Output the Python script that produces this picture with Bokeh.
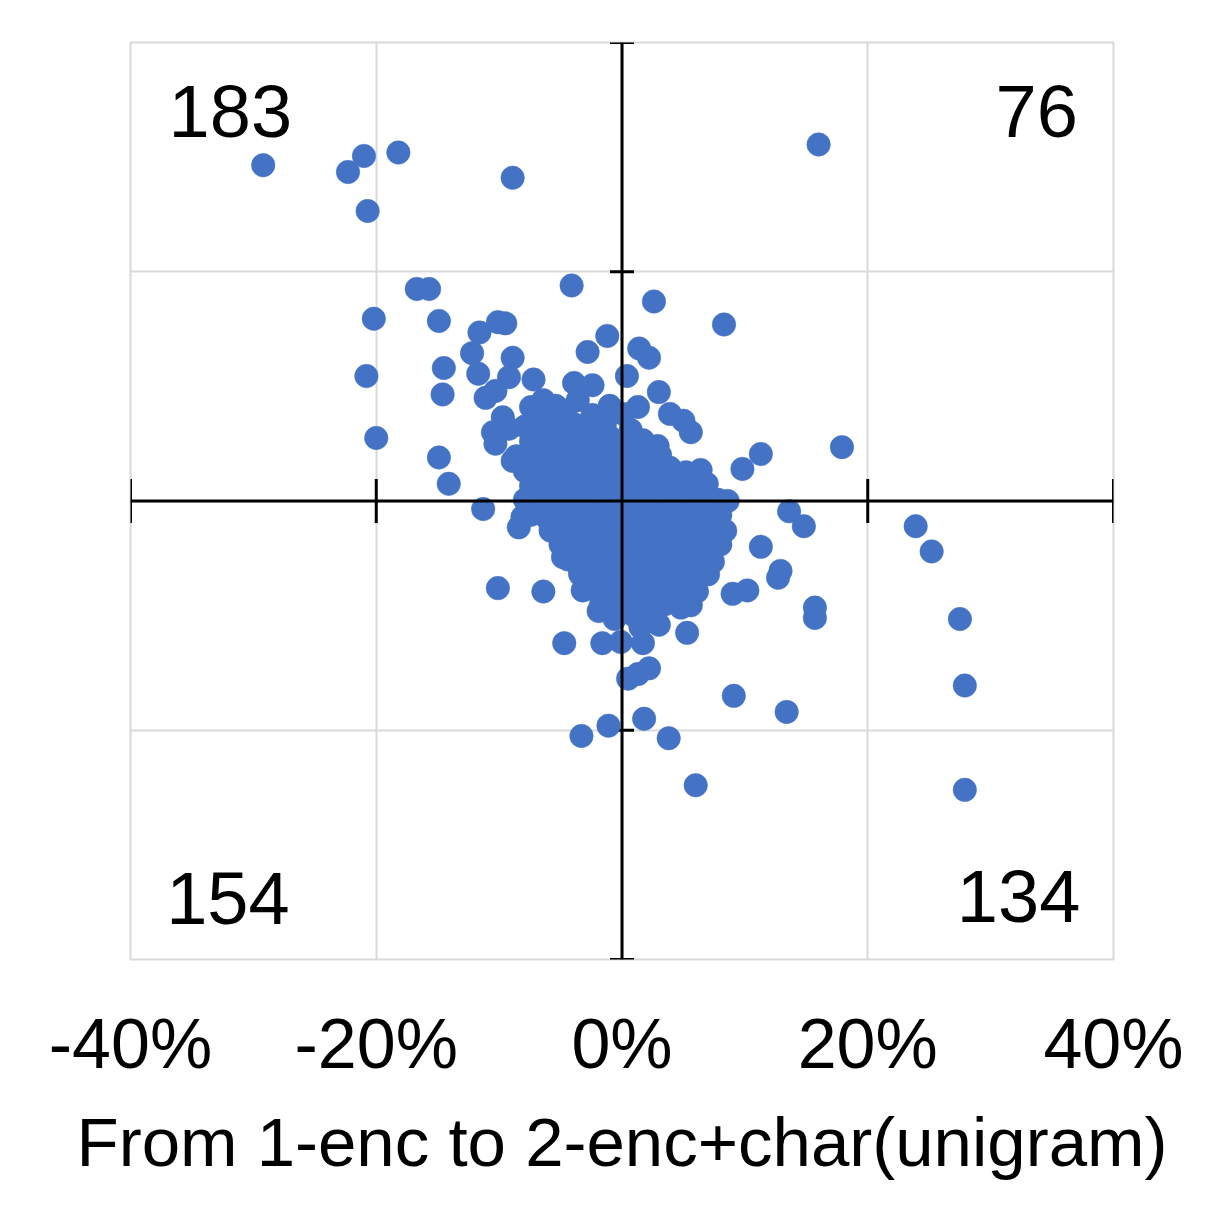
import numpy as np
from bokeh.plotting import figure
from bokeh.models import (FixedTicker, NumeralTickFormatter, Span, Label,
                          ColumnDataSource)
from bokeh.embed import file_html
from bokeh.resources import INLINE

# ---- data (percent change) ----
outlier_x = [-29.2, -22.3, -21.0, -20.7, -18.2, -8.9, 16.0,
             -16.7, -15.7, -4.1, 2.6, -20.2, -14.9, 8.3, -11.6, -10.1, -9.5, -1.2, -2.8, 1.4,
             2.2, -12.2, -8.9, -20.8, -14.5, -11.7, -9.2, -7.2, -3.9, -2.4, 0.4, -14.6, -11.1,
             -10.3, 3.0, -6.4, -5.4, -2.4, 1.3, 0.1, -9.7, -10.5, -9.2, -10.3, -14.9, -14.1, -8.9,
             -20.0, 3.9, 5.0, 5.6, 2.9, -7.4, 17.9, 11.3, 9.8, 8.6,
             13.6, 14.8, 11.3, 12.9, 12.7, 9.0, 10.2, 15.7, 15.7, 5.3, 9.1, 13.4, 23.9, 25.2,
             27.5, 27.9, 27.9, 6.0,
             -11.3, -8.4, -8.1, -10.1, -6.4, -4.7, -1.6, -0.1, 1.7, 0.5, 1.3, 2.2, -3.3, -1.1,
             1.8, 3.8, -4.8, -3.2, -1.9, 5.6, -5.8, -3.4,
             -6.8, -4.6, -3.6, -1.0]
outlier_y = [29.3, 28.7, 30.1, 25.3, 30.4, 28.2, 31.1,
             18.5, 18.5, 18.8, 17.4, 15.9, 15.7, 15.4, 14.7, 15.6, 15.5, 14.4, 13.0, 13.3,
             12.5, 12.9, 12.5, 10.9, 11.6, 11.1, 10.8, 10.6, 10.3, 10.1, 10.9, 9.3, 9.0,
             9.6, 9.5, 8.8, 8.3, 7.5, 8.2, 7.6, 7.3, 6.0, 6.3, 5.0, 3.8, 1.5, 3.5,
             5.5, 7.6, 7.0, 6.0, 4.8, 8.2, 4.7, 4.1, 2.8, 0.0,
             -0.9, -2.2, -4.0, -6.1, -6.7, -8.1, -7.8, -9.3, -10.2, -11.5, -17.0, -18.4, -2.2, -4.4,
             -10.3, -16.1, -25.2, -24.8,
             -0.7, -2.3, -1.4, -7.6, -7.9, -12.4, -12.4, -12.3, -12.4, -15.5, -15.1, -14.6, -20.5, -19.6,
             -19.0, -20.7, -4.9, -7.8, -9.6, -9.1, -2.6, -6.2,
             7.6, 7.9, 8.8, 8.3]

cluster_x = [-7.9, -6.5, -5.3, -3.9, -2.7, -1.4, 0.7,
             -7.4, -6.0, -4.8, -3.5, -2.1, -0.9, 0.4, 1.7,
             -8.6, -7.3, -6.1, -4.7, -3.5, -2.2, -0.9, 0.4, 1.8, 3.1,
             -7.9, -6.6, -5.2, -3.9, -2.6, -1.3, 0.0, 1.3, 2.6, 3.9, 5.2, 6.4,
             -7.4, -6.1, -4.8, -3.5, -2.2, -0.9, 0.4, 1.7, 3.0, 4.3, 5.6, 6.9,
             -7.9, -6.6, -5.2, -3.9, -2.6, -1.3, 0.0, 1.3, 2.6, 3.9, 5.2, 6.5, 7.8,
             -7.4, -6.1, -4.8, -3.5, -2.2, -0.9, 0.4, 1.7, 3.0, 4.3, 5.6, 6.9, 8.0,
             -5.8, -4.5, -3.2, -1.9, -0.6, 0.7, 2.0, 3.3, 4.6, 5.9, 7.2, 8.4,
             -5.0, -3.7, -2.4, -1.1, 0.2, 1.5, 2.8, 4.1, 5.4, 6.7, 8.0,
             -4.4, -3.1, -1.7, -0.4, 0.9, 2.2, 3.5, 4.8, 6.1, 7.4,
             -3.4, -2.1, -0.8, 0.5, 1.8, 3.1, 4.4, 5.7, 7.0,
             -3.0, -1.7, -0.4, 0.9, 2.2, 3.5, 4.8, 6.1,
             -1.7, -0.4, 0.9, 2.2, 3.5, 4.8,
             -0.6, 1.0, 2.4, 1.5, 3.0]
cluster_y = [6.5, 6.8, 6.4, 6.7, 6.3, 6.6, 6.2,
             5.2, 5.5, 5.1, 5.4, 5.2, 5.5, 5.0, 5.3,
             3.9, 4.2, 3.8, 4.1, 3.9, 4.2, 3.8, 4.1, 3.9, 4.0,
             2.6, 2.9, 2.5, 2.8, 2.6, 2.9, 2.5, 2.8, 2.6, 2.9, 2.5, 2.7,
             1.3, 1.6, 1.2, 1.5, 1.3, 1.6, 1.2, 1.5, 1.3, 1.6, 1.2, 1.5,
             0.1, -0.2, 0.2, -0.1, 0.1, -0.2, 0.2, -0.1, 0.1, -0.2, 0.2, -0.1, 0.1,
             -1.2, -1.5, -1.1, -1.4, -1.2, -1.5, -1.1, -1.4, -1.2, -1.5, -1.1, -1.4, -1.2,
             -2.5, -2.8, -2.4, -2.7, -2.5, -2.8, -2.4, -2.7, -2.5, -2.8, -2.4, -2.6,
             -3.8, -4.1, -3.7, -4.0, -3.8, -4.1, -3.7, -4.0, -3.8, -4.1, -3.8,
             -5.1, -5.4, -5.0, -5.3, -5.1, -5.4, -5.0, -5.3, -5.1, -5.3,
             -6.4, -6.7, -6.3, -6.6, -6.4, -6.7, -6.3, -6.6, -6.4,
             -7.7, -8.0, -7.6, -7.9, -7.7, -8.0, -7.6, -7.9,
             -9.0, -9.3, -8.9, -9.2, -9.0, -9.3,
             -10.3, -10.0, -10.4, -11.0, -10.8]

quadrant_counts = [183, 76, 154, 134]   # TL, TR, BL, BR
axis_ticks = [-0.4, -0.2, 0.0, 0.2, 0.4]
x_title = "From 1-enc to 2-enc+char(unigram)"

FONT = "Liberation Sans"
BLUE = "#4472C4"
GRID = "#d9d9d9"

xs = np.array(outlier_x + cluster_x) / 100.0
ys = np.array(outlier_y + cluster_y) / 100.0

p = figure(width=1223, height=1218, x_range=(-0.4, 0.4), y_range=(-0.4, 0.4),
           output_backend="svg", toolbar_location=None,
           min_border_left=130, min_border_right=110,
           min_border_top=42, min_border_bottom=259)
p.background_fill_color = "white"
p.border_fill_color = "white"
p.outline_line_color = GRID
p.outline_line_width = 2

# grids
p.xgrid.ticker = FixedTicker(ticks=axis_ticks)
p.ygrid.ticker = FixedTicker(ticks=axis_ticks)
for g in (p.xgrid, p.ygrid):
    g.grid_line_color = GRID
    g.grid_line_width = 2

# x axis (labels only)
ax = p.xaxis[0]
ax.ticker = FixedTicker(ticks=axis_ticks)
ax.formatter = NumeralTickFormatter(format="0%")
ax.axis_line_color = None
ax.major_tick_line_color = None
ax.minor_tick_line_color = None
ax.major_tick_in = 0
ax.major_tick_out = 0
ax.major_label_standoff = 45
ax.major_label_text_font = FONT
ax.major_label_text_font_size = "70px"
ax.major_label_text_color = "black"
ax.axis_label = x_title
ax.axis_label_text_font = FONT
ax.axis_label_text_font_size = "69px"
ax.axis_label_text_font_style = "normal"
ax.axis_label_text_color = "black"
ax.axis_label_standoff = 18
p.yaxis.visible = False

# central crossing axes
p.add_layout(Span(location=0, dimension="width", line_color="black", line_width=3))
p.add_layout(Span(location=0, dimension="height", line_color="black", line_width=3))
hticks = [t for t in axis_ticks if t != 0]
p.scatter(x=hticks, y=[0] * len(hticks), marker="dash", size=44, angle=np.pi / 2,
          line_color="black", line_width=3)
p.scatter(x=[0] * len(hticks), y=hticks, marker="dash", size=24,
          line_color="black", line_width=3)

# points
src = ColumnDataSource(dict(x=xs, y=ys))
p.scatter("x", "y", source=src, size=23.5, fill_color=BLUE, line_color=BLUE, line_width=0.5)

# quadrant count labels
lab_pos = [(-0.369, 0.340, "left"), (0.371, 0.340, "right"),
           (-0.371, -0.347, "left"), (0.373, -0.345, "right")]
for cnt, (lx, ly, al) in zip(quadrant_counts, lab_pos):
    p.add_layout(Label(x=lx, y=ly, text=str(cnt), text_align=al,
                       text_baseline="alphabetic", text_font=FONT,
                       text_font_size="74px", text_color="black"))

open("out.html", "w").write(file_html(p, INLINE))
